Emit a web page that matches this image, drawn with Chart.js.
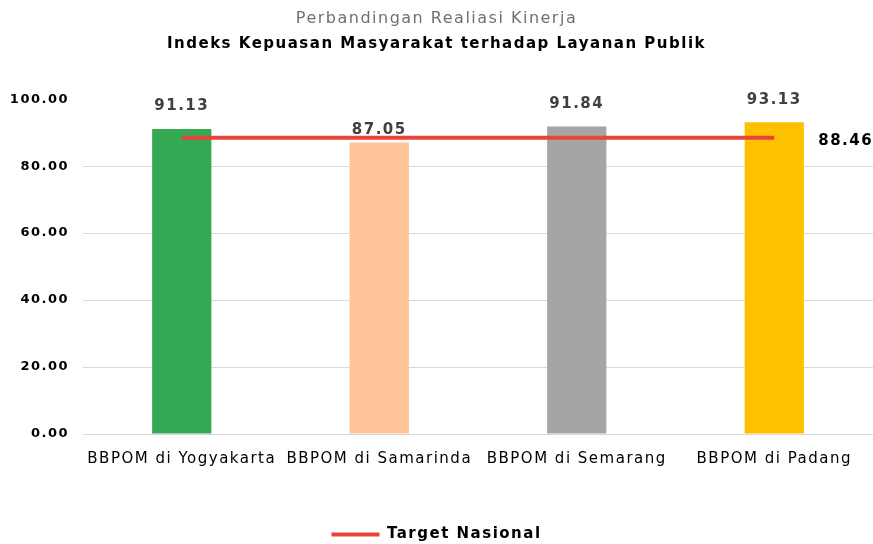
<!DOCTYPE html>
<html>
<head>
<meta charset="utf-8">
<script src="https://cdn.jsdelivr.net/npm/chart.js@4"></script>
<style>
  body { margin: 0; background: #fff; }
  #wrap { width: 873px; height: 544px; }
</style>
</head>
<body>
<div id="wrap"><canvas id="kinerjaChart" width="873" height="544"></canvas></div>
<script>
const categories = ['BBPOM di Yogyakarta', 'BBPOM di Samarinda', 'BBPOM di Semarang', 'BBPOM di Padang'];
const realisasi = [91.13, 87.05, 91.84, 93.13];
const targetNasional = [88.46, 88.46, 88.46, 88.46];
const barColors = ['#34A853', '#FFC499', '#A5A5A5', '#FFC000'];

const FONT = '"DejaVu Sans", Verdana, sans-serif';
Chart.defaults.font.family = FONT;

// the reference text is wide and loosely spaced
const spacing = {
    id: 'spacing',
    beforeUpdate(chart) { chart.ctx.letterSpacing = '1.5px'; },
    beforeDraw(chart) { chart.ctx.letterSpacing = '1.5px'; }
};

// gap between bar top and its label (the Samarinda label sits on the target line)
const labelGap = [15, 5, 15, 15];

// draw value labels (no datalabels plugin available)
const valueLabels = {
    id: 'valueLabels',
    afterDatasetsDraw(chart) {
        const ctx = chart.ctx;
        ctx.save();
        const barMeta = chart.getDatasetMeta(0);
        ctx.font = 'bold 15px ' + FONT;
        ctx.fillStyle = '#404040';
        ctx.textAlign = 'center';
        ctx.textBaseline = 'bottom';
        barMeta.data.forEach((bar, i) => {
            ctx.fillText(realisasi[i].toFixed(2), bar.x, bar.y - labelGap[i]);
        });
        const lineMeta = chart.getDatasetMeta(1);
        const last = lineMeta.data[lineMeta.data.length - 1];
        ctx.fillStyle = '#000';
        ctx.textAlign = 'left';
        ctx.textBaseline = 'middle';
        ctx.fillText(targetNasional[targetNasional.length - 1].toFixed(2), last.x + 44, last.y + 3);
        ctx.restore();
    }
};

new Chart(document.getElementById('kinerjaChart'), {
    data: {
        labels: categories,
        datasets: [{
            type: 'bar',
            label: 'Realisasi',
            data: realisasi,
            backgroundColor: barColors,
            barPercentage: 0.6,
            categoryPercentage: 0.5,
            order: 1
        }, {
            type: 'line',
            label: 'Target Nasional',
            data: targetNasional,
            borderColor: '#E8443A',
            backgroundColor: '#E8443A',
            borderWidth: 4,
            pointRadius: 0,
            order: 0
        }]
    },
    options: {
        responsive: false,
        animation: false,
        layout: { padding: { top: 0, left: 0, right: 0, bottom: -8 } },
        plugins: {
            title: {
                display: true,
                text: 'Perbandingan Realiasi Kinerja',
                color: '#707070',
                font: { size: 16, weight: 'normal' },
                padding: { top: 9, bottom: 7 }
            },
            subtitle: {
                display: true,
                text: 'Indeks Kepuasan Masyarakat terhadap Layanan Publik',
                color: '#000',
                font: { size: 15, weight: 'bold' },
                padding: { top: 0, bottom: 46 }
            },
            legend: {
                position: 'bottom',
                labels: {
                    filter: item => item.datasetIndex === 1,
                    usePointStyle: true,
                    pointStyle: 'line',
                    pointStyleWidth: 48,
                    color: '#000',
                    font: { size: 15, weight: 'bold' },
                    padding: 3
                }
            },
            tooltip: { enabled: false }
        },
        scales: {
            x: {
                grid: { display: false },
                border: { color: '#D9D9D9' },
                ticks: {
                    color: '#000',
                    font: { size: 15 },
                    maxRotation: 0,
                    autoSkip: false,
                    padding: 8
                },
                afterFit: scale => { scale.height = 90; }
            },
            y: {
                min: 0,
                max: 100,
                ticks: {
                    stepSize: 20,
                    color: '#000',
                    font: { size: 13, weight: 'bold' },
                    callback: v => v.toFixed(2),
                    padding: 14
                },
                grid: {
                    color: c => c.tick.value === 100 ? 'rgba(0,0,0,0)' : '#D9D9D9',
                    drawTicks: false
                },
                border: { display: false },
                afterFit: scale => { scale.width = 83; }
            }
        }
    },
    plugins: [spacing, valueLabels]
});
</script>
</body>
</html>
